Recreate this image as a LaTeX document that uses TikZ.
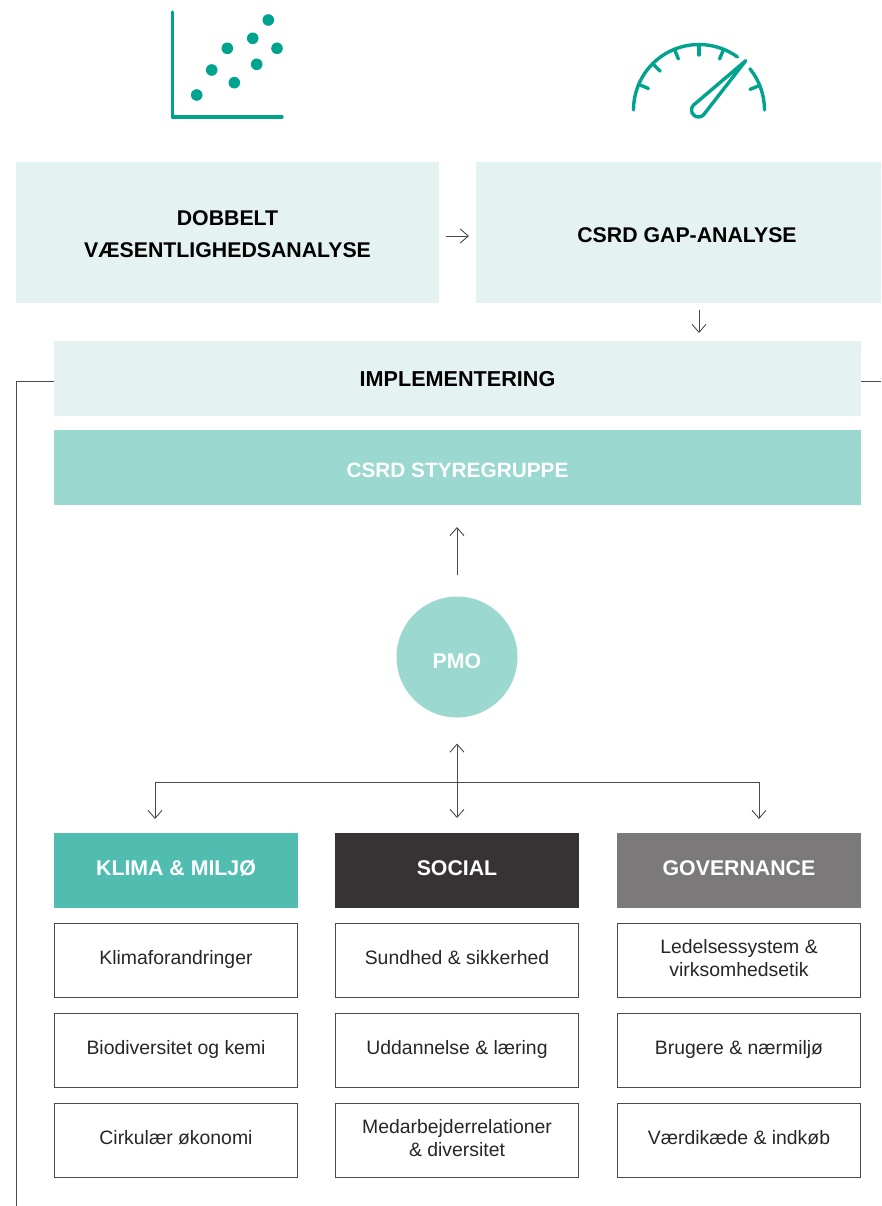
\documentclass[tikz,border=0pt]{standalone}
\usepackage{fontspec}
\setmainfont{Liberation Sans}
\usetikzlibrary{arrows.meta}
\definecolor{icongreen}{HTML}{00A38D}
\definecolor{palegreen}{HTML}{E4F3F1}
\definecolor{midgreen}{HTML}{9AD8D0}
\definecolor{klimagreen}{HTML}{50BDB0}
\definecolor{socialgrey}{HTML}{373334}
\definecolor{govgrey}{HTML}{7B797A}
\definecolor{linegrey}{HTML}{4A4A4A}
\tikzset{
  headbox/.style={fill=palegreen,inner sep=0pt,outer sep=0pt,align=center,font=\fontsize{21.3}{32}\selectfont\bfseries},
  whitehead/.style={inner sep=0pt,outer sep=0pt,align=center,text=white,font=\fontsize{21.3}{32}\selectfont\bfseries,minimum height=75pt},
  topicbox/.style={draw=linegrey,line width=0.8pt,inner sep=0pt,outer sep=0pt,align=center,minimum width=243pt,minimum height=74pt,text=black!85,font=\fontsize{19.4}{23}\selectfont,text height=8.5pt,text depth=0pt},
  twolines/.style={text height=31pt,text depth=0pt},
  flowline/.style={draw=linegrey,line width=0.9pt},
  flowarrow/.style={flowline,-{Straight Barb[length=8pt,width=14pt,line width=0.9pt]}},
  bothways/.style={flowline,{Straight Barb[length=8pt,width=14pt,line width=0.9pt]}-{Straight Barb[length=8pt,width=14pt,line width=0.9pt]}},
  iconline/.style={draw=icongreen,line width=3.4pt,line cap=round,line join=round}
}
\begin{document}
\begin{tikzpicture}[x=1pt,y=1pt]
\useasboundingbox (0,0) rectangle (881,-1206);
% scatter icon
\draw[iconline] (172.5,-12) -- (172.5,-117) -- (282,-117);
\foreach \px/\py in {268.3/20,252.7/38.3,277/48.3,227.3/48.3,256.7/64.3,211.7/70,234.3/82.7,196.7/95}
  \fill[icongreen] (\px,-\py) circle (5.8pt);
% gauge icon
\draw[iconline] (699,-110) ++(180:65.5) arc[start angle=180,end angle=54,radius=65.5];
\draw[iconline] (699,-110) ++(39:65.5) arc[start angle=39,end angle=0,radius=65.5];
\foreach \a in {157,135,112,90,68,22}
  \draw[iconline] (699,-110) ++(\a:65.5) -- ++(\a+180:10.5);
\draw[iconline] (745.7,-60.7) -- (693.46,-105.14) arc[start angle=136,end angle=316,radius=7] -- cycle;
% boxes
\node[headbox,minimum width=423pt,minimum height=141pt,text height=50.4pt,text depth=0pt] (dobbelt) at (227.5,-232.5) {DOBBELT\\VÆSENTLIGHEDSANALYSE};
\node[headbox,minimum width=405pt,minimum height=141pt,text height=19.4pt,text depth=0pt] (gap) at (678.5,-232.5) {\hspace*{17pt}CSRD GAP-ANALYSE};
\node[headbox,minimum width=807pt,minimum height=75pt,text height=16.4pt,text depth=0pt,font=\fontsize{21.6}{32}\selectfont\bfseries] (impl) at (457.5,-378.5) {IMPLEMENTERING};
\node[whitehead,fill=midgreen,minimum width=807pt,text height=19pt,text depth=0pt,font=\fontsize{20.8}{32}\selectfont\bfseries] (styre) at (457.5,-467.5) {CSRD STYREGRUPPE};
\node[circle,fill=midgreen,minimum size=121pt,inner sep=0pt,outer sep=0pt,text=white,font=\fontsize{21.3}{24}\selectfont\bfseries,text height=23.4pt,text depth=0pt] (pmo) at (457,-657) {PMO};
\node[whitehead,fill=klimagreen,minimum width=244pt,text height=10.4pt,text depth=0pt] (klima) at (176,-870.5) {KLIMA \& MILJØ};
\node[whitehead,fill=socialgrey,minimum width=244pt,text height=10.4pt,text depth=0pt] (social) at (457,-870.5) {SOCIAL};
\node[whitehead,fill=govgrey,minimum width=244pt,text height=10.4pt,text depth=0pt] (gov) at (739,-870.5) {GOVERNANCE};
% topics
\node[topicbox] (klimaA) at (176,-960.5) {Klimaforandringer};
\node[topicbox] (klimaB) at (176,-1050.5) {Biodiversitet og kemi};
\node[topicbox] (klimaC) at (176,-1140.5) {Cirkulær økonomi};
\node[topicbox] (socialA) at (457,-960.5) {Sundhed \& sikkerhed};
\node[topicbox] (socialB) at (457,-1050.5) {Uddannelse \& læring};
\node[topicbox,twolines] (socialC) at (457,-1140.5) {Medarbejderrelationer\\\& diversitet};
\node[topicbox,twolines] (govA) at (739,-960.5) {Ledelsessystem \&\\virksomhedsetik};
\node[topicbox] (govB) at (739,-1050.5) {Brugere \& nærmiljø};
\node[topicbox] (govC) at (739,-1140.5) {Værdikæde \& indkøb};
% connectors
\coordinate (frameleft) at (16.5,-381);
\coordinate (frameend) at (16.5,-1206);
\coordinate (frameright) at (881,-381);
\coordinate (busleft) at (155,-782);
\coordinate (busright) at (759,-782);
\draw[flowarrow,shorten <=7pt,shorten >=7pt] (dobbelt.east |- 0,-236) -- (gap.west |- 0,-236);
\draw[flowarrow,shorten <=7pt,shorten >=8pt] (gap.south -| 699,0) -- (impl.north -| 699,0);
\draw[flowline] (impl.west |- frameleft) -- (frameleft) -- (frameend);
\draw[flowline] (impl.east |- frameright) -- (frameright);
\draw[flowarrow,shorten <=22pt,shorten >=22pt] (pmo.north) -- (pmo.north |- styre.south);
\draw[bothways,shorten <=26pt,shorten >=15pt] (pmo.south) -- (pmo.south |- social.north);
\draw[flowline] (busleft) -- (busright);
\draw[flowarrow] (busleft) -- (busleft |- 0,-819);
\draw[flowarrow] (busright) -- (busright |- 0,-819);
\end{tikzpicture}
\end{document}
